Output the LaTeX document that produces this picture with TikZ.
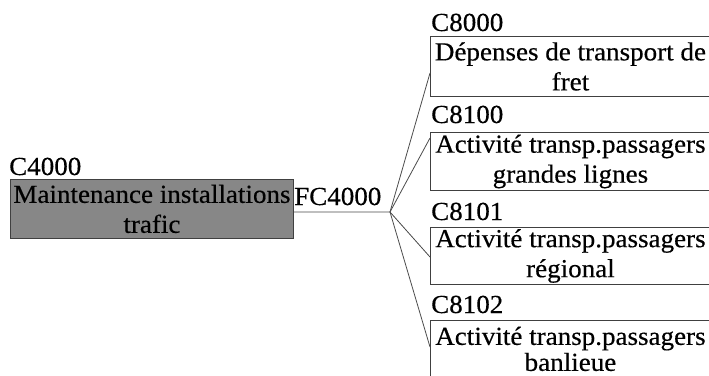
\documentclass[tikz,border=0pt]{standalone}
\usepackage{fontspec}
\setmainfont[FakeStretch=1.04,FakeBold=0.4]{Liberation Serif}
\usetikzlibrary{calc}
\begin{document}
\begin{tikzpicture}[x=1pt,y=-1pt,
  lbl/.style={anchor=base west,inner sep=0pt,font=\fontsize{26}{30}\selectfont},
  boxnode/.style={draw=black!75,line width=0.9pt,anchor=north west,align=center,inner sep=0pt,
    minimum width=280pt,font=\fontsize{26}{30}\selectfont},
  conn/.style={draw=black!70,line width=0.8pt}]
\useasboundingbox (0,0) rectangle (709,375);
\clip (0,0) rectangle (709,375);
\fill[white] (0,0) rectangle (709,375);
% main
\node[lbl] (lc4) at (9,175) {C4000};
\node[boxnode,fill=black!47,minimum width=283pt,minimum height=59pt] (g) at (10,179) {Maintenance installations\\trafic};
\node[lbl] (lfc) at (294,205) {FC4000};
\coordinate (hub) at (390,212);
\draw[conn] ($(g.east)+(0,3)$) -- (hub);
% right boxes
\node[lbl] (l1) at (431,31) {C8000};
\node[boxnode,minimum height=60pt] (b1) at (430,36) {Dépenses de transport de\\fret};
\node[lbl] (l2) at (431,123) {C8100};
\node[boxnode,minimum height=58pt] (b2) at (430,132) {Activité transp.passagers\\grandes lignes};
\node[lbl] (l3) at (431,220) {C8101};
\node[boxnode,minimum height=57pt] (b3) at (430,227) {Activité transp.passagers\\régional};
\node[lbl] (l4) at (431,313) {C8102};
\node[boxnode,minimum height=57pt] (b4) at (430,320) {Activité transp.passagers\\[-4pt]banlieue};
% connectors
\draw[conn] (hub) -- ($(b1.north west)+(0,37)$);
\draw[conn] (hub) -- ($(b2.north west)+(0,6)$);
\draw[conn] (hub) -- ($(b3.north west)+(0,30)$);
\draw[conn] (hub) -- ($(b4.north west)+(0,27)$);
\end{tikzpicture}
\end{document}
